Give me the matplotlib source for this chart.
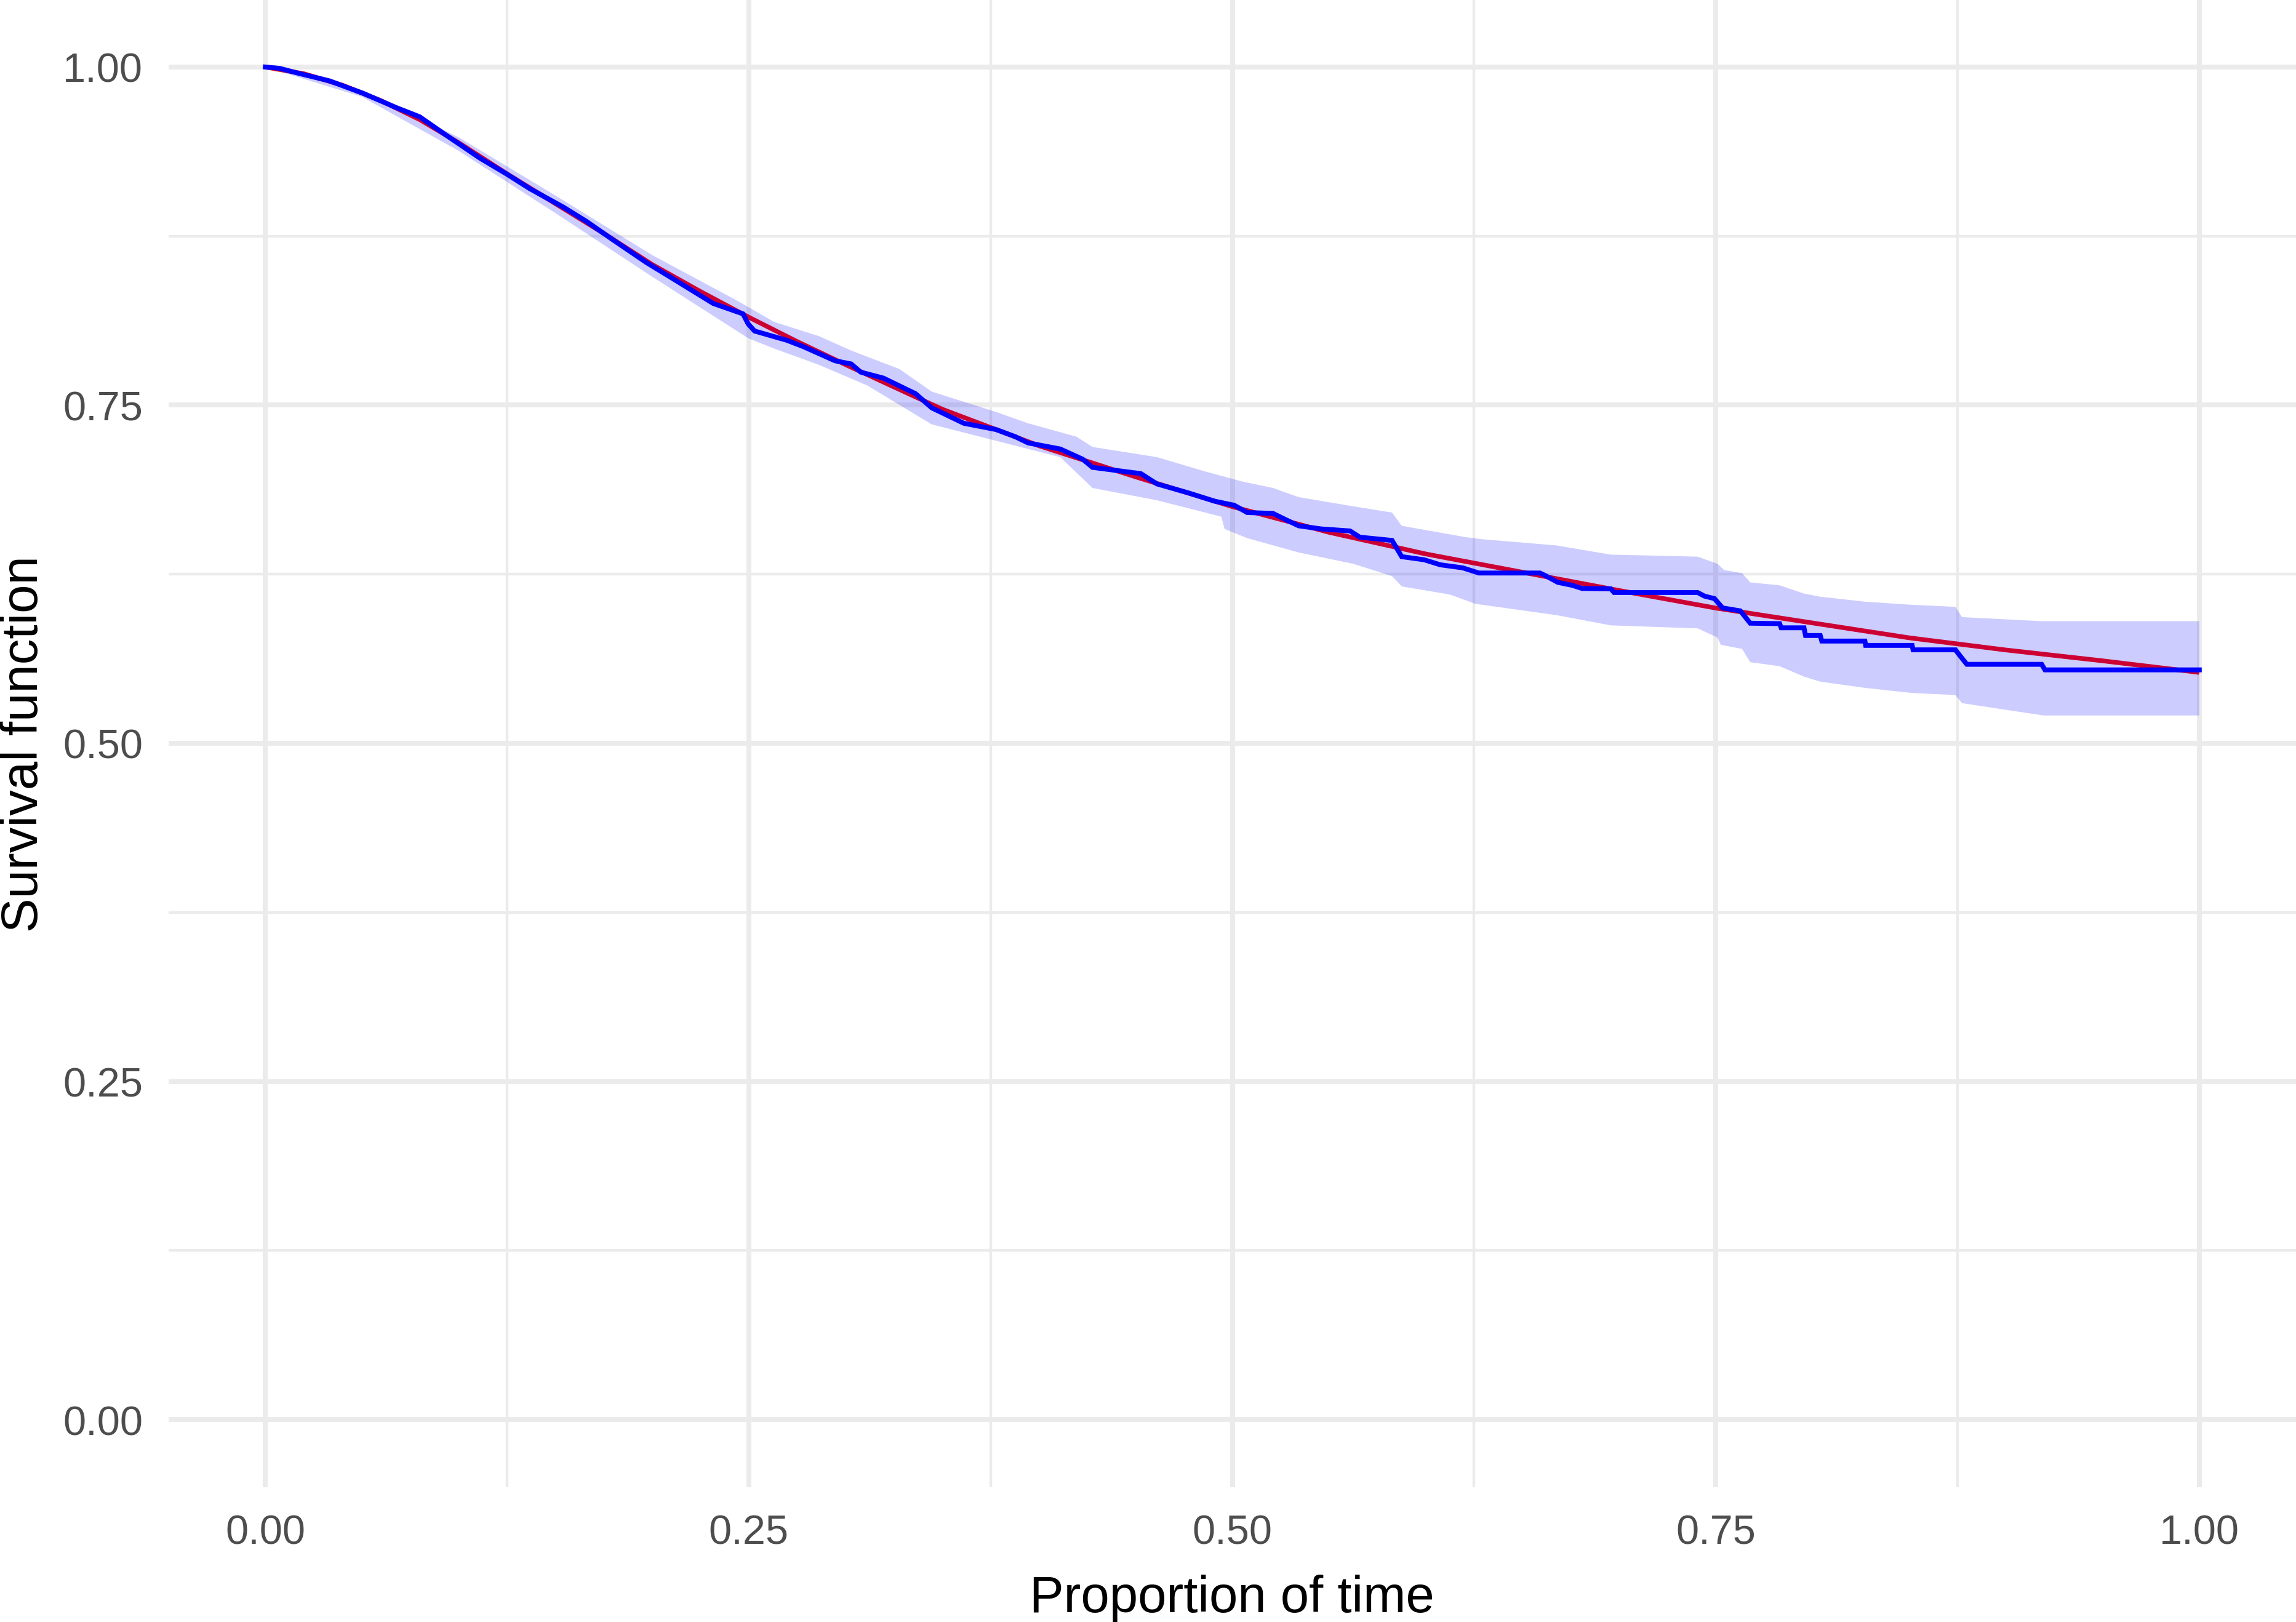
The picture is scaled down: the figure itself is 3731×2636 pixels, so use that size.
import numpy as np
import matplotlib
matplotlib.use("Agg")
import matplotlib.pyplot as plt
from matplotlib.ticker import MultipleLocator, FormatStrFormatter

plt.rcParams['font.family'] = ['Liberation Sans', 'DejaVu Sans']

# Kaplan-Meier estimate (path vertices)
km_time = [0.0, 0.0074, 0.016, 0.0333, 0.0505, 0.0677, 0.0798, 0.0936, 0.1108, 0.125,
           0.1367, 0.154, 0.166, 0.1798, 0.197, 0.2143, 0.2316, 0.247, 0.2497, 0.2530,
           0.2696, 0.2780, 0.2946, 0.3029, 0.3079, 0.3196, 0.3362, 0.3446, 0.3612, 0.3778,
           0.3878, 0.3944, 0.411, 0.4227, 0.4277, 0.4527, 0.461, 0.4776, 0.4909, 0.501,
           0.5077, 0.521, 0.5277, 0.5343, 0.546, 0.5609, 0.5659, 0.5826, 0.5876, 0.5992,
           0.6075, 0.6192, 0.6275, 0.6591, 0.6624, 0.6683, 0.6758, 0.6808, 0.6957, 0.6974,
           0.7406, 0.7442, 0.7493, 0.7535, 0.7627, 0.7678, 0.783, 0.7838, 0.7956, 0.7964,
           0.804, 0.8048, 0.8271, 0.8275, 0.8515, 0.852, 0.8739, 0.8764, 0.8798, 0.9185,
           0.9202, 1.0]
km_surv = [1.0, 0.999, 0.9958, 0.9897, 0.9806, 0.970, 0.9632, 0.9495, 0.9328, 0.9207,
           0.9101, 0.8965, 0.8859, 0.8722, 0.8555, 0.8404, 0.8252, 0.8175, 0.810, 0.8048,
           0.798, 0.7934, 0.7828, 0.7805, 0.7744, 0.770, 0.7585, 0.748, 0.7366, 0.732,
           0.7267, 0.7221, 0.7176, 0.710, 0.704, 0.6994, 0.6918, 0.685, 0.679, 0.676,
           0.6706, 0.670, 0.6653, 0.6608, 0.6585, 0.657, 0.6524, 0.650, 0.638, 0.6357,
           0.632, 0.6297, 0.6259, 0.6259, 0.6236, 0.619, 0.6168, 0.6145, 0.6142, 0.6115,
           0.6115, 0.6088, 0.607, 0.6001, 0.5979, 0.5888, 0.5885, 0.5854, 0.5854, 0.5797,
           0.5797, 0.5756, 0.5756, 0.5724, 0.5724, 0.5691, 0.5691, 0.5645, 0.5584, 0.5584,
           0.5543, 0.5543]

# confidence band edges
ci_up_time = [0.0, 0.05, 0.1, 0.15, 0.2, 0.2447, 0.263, 0.2863, 0.3029, 0.3279, 0.3446,
              0.3778, 0.3944, 0.4194, 0.4277, 0.461, 0.4859, 0.5056, 0.521, 0.5343, 0.5626,
              0.5826, 0.5876, 0.6208, 0.6292, 0.6675, 0.6957, 0.7406, 0.7509, 0.7543, 0.7636,
              0.7678, 0.783, 0.7956, 0.804, 0.8271, 0.8515, 0.8739, 0.8773, 0.9185, 1.0]
ci_up = [1.0, 0.983, 0.948, 0.905, 0.861, 0.8267, 0.8116, 0.801, 0.7904, 0.7767, 0.760,
         0.745, 0.7366, 0.7267, 0.7191, 0.7116, 0.701, 0.6934, 0.6888, 0.682, 0.6752,
         0.6706, 0.6608, 0.6524, 0.6509, 0.6463, 0.6395, 0.638, 0.6327, 0.6281, 0.6258,
         0.619, 0.6168, 0.6107, 0.6084, 0.6047, 0.6024, 0.6009, 0.5933, 0.5903, 0.5903]
ci_lo_time = [0.0, 0.05, 0.1, 0.15, 0.2, 0.2497, 0.263, 0.2863, 0.3112, 0.3446, 0.3778,
              0.411, 0.4277, 0.461, 0.4943, 0.496, 0.5077, 0.5343, 0.5626, 0.5826, 0.5876,
              0.6125, 0.6258, 0.6675, 0.6957, 0.7406, 0.7509, 0.7526, 0.7636, 0.7678, 0.783,
              0.7956, 0.804, 0.8271, 0.8515, 0.8739, 0.8773, 0.9194, 1.0]
ci_lo = [1.0, 0.978, 0.938, 0.892, 0.845, 0.7995, 0.7919, 0.7798, 0.7646, 0.7358, 0.7237,
         0.7116, 0.6888, 0.6797, 0.6676, 0.6585, 0.6517, 0.6411, 0.6327, 0.6236, 0.616,
         0.610, 0.6031, 0.5948, 0.5872, 0.585, 0.5782, 0.5728, 0.5698, 0.560, 0.557,
         0.5493, 0.5456, 0.541, 0.5372, 0.5357, 0.5297, 0.5206, 0.5206]

# fitted parametric curve
fit_time = [0.0, 0.02, 0.04, 0.06, 0.08, 0.10, 0.125, 0.15, 0.175, 0.20, 0.225, 0.25,
            0.275, 0.30, 0.35, 0.40, 0.45, 0.50, 0.55, 0.60, 0.65, 0.70, 0.75, 0.80,
            0.85, 0.90, 0.95, 1.00]
fit_surv = [1.0, 0.995, 0.9865, 0.975, 0.961, 0.944, 0.921, 0.899, 0.877, 0.854, 0.834,
            0.815, 0.797, 0.780, 0.747, 0.720, 0.697, 0.675, 0.656, 0.640, 0.6265, 0.613,
            0.600, 0.589, 0.578, 0.569, 0.561, 0.5524]

W, H, DPI = 3731, 2637, 300
fig = plt.figure(figsize=(W / DPI, H / DPI), dpi=DPI)
ax = fig.add_axes([274 / W, 1 - 2418 / H, 1 - 274 / W, 2418 / H])

ax.plot(fit_time, fit_surv, color='#FF0000', lw=1.8, zorder=3, solid_capstyle='butt')
band_x = np.concatenate([ci_up_time, ci_lo_time[::-1]])
band_y = np.concatenate([ci_up, ci_lo[::-1]])
ax.fill(band_x, band_y, color='#0000FF', alpha=0.2, lw=0, zorder=4)
ax.plot(km_time, km_surv, color='#0000FF', lw=1.9, zorder=5, solid_joinstyle='miter')

ax.set_xlim(-0.05, 1.05)
ax.set_ylim(-0.05, 1.05)
for a in (ax.xaxis, ax.yaxis):
    a.set_major_locator(MultipleLocator(0.25))
    a.set_minor_locator(MultipleLocator(0.125))
    a.set_major_formatter(FormatStrFormatter('%.2f'))
ax.grid(True, which='major', color='#EBEBEB', lw=1.92, zorder=0)
ax.grid(True, which='minor', color='#EBEBEB', lw=1.05, zorder=0)
ax.set_axisbelow(True)
for sp in ax.spines.values():
    sp.set_visible(False)
ax.tick_params(which='both', length=0, labelsize=16, labelcolor='#4D4D4D')
ax.tick_params(axis='x', pad=10.5)
ax.tick_params(axis='y', pad=10)

fig.text(2002 / W, (H - 2620) / H, 'Proportion of time', ha='center', va='baseline',
         fontsize=20, color='black')
fig.text(39 / W, 1 - 1209 / H, 'Survival function', rotation=90, ha='center',
         va='center', fontsize=20, color='black')

fig.savefig('out.png', dpi=DPI)
